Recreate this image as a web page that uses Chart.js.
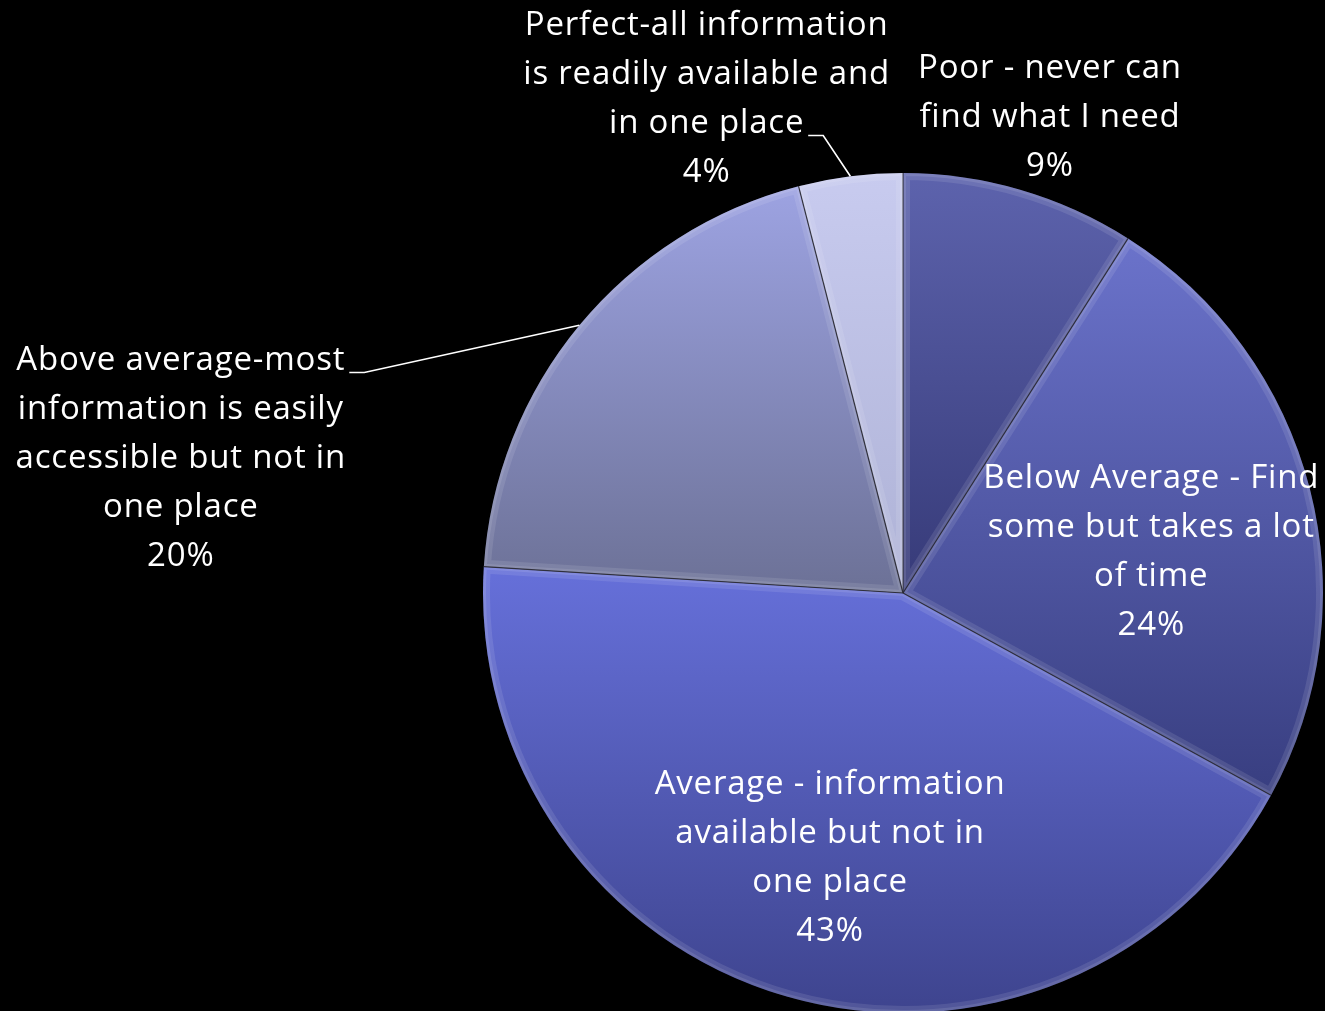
<!DOCTYPE html>
<html>
<head>
<meta charset="utf-8">
<script src="https://cdn.jsdelivr.net/npm/chart.js@4/dist/chart.umd.min.js"></script>
<style>
  html, body { margin: 0; padding: 0; background: #000; overflow: hidden; }
  canvas { display: block; }
</style>
</head>
<body>
<canvas id="infoPie" width="1325" height="1016"></canvas>
<script>
// survey answers, clockwise from twelve o'clock
const sliceLabels = [
  ['Poor - never can', 'find what I need'],
  ['Below Average - Find', 'some but takes a lot', 'of time'],
  ['Average - information', 'available but not in', 'one place'],
  ['Above average-most', 'information is easily', 'accessible but not in', 'one place'],
  ['Perfect-all information', 'is readily available and', 'in one place'],
];
const shares = [9, 24, 43, 20, 4];

// fill runs from the top colour down to the bottom colour of each slice
const topColors = ['#5d63ad', '#6b73cb', '#6670da', '#9da3e2', '#c8cbef'];
const bottomColors = ['#363a78', '#383e80', '#3e448e', '#6c7196', '#aeb2d6'];

// label block centre: distance in radii, and turn (degrees) away from the slice middle
const labelRadius = [1.19, 0.60, 0.65, 1.75, 1.27];
const labelTurn = [0.9, 4.5, -0.7, -28.9, -14.4];
// which text line the leader leaves from (outside labels only)
const leaderLine = [null, null, null, 0, 2];

const FONT = '33px "Open Sans", "Noto Sans", sans-serif';
const LINE_HEIGHT = 49;

const total = shares.reduce((a, b) => a + b, 0);

function sliceAngles(i) {
  const before = shares.slice(0, i).reduce((a, b) => a + b, 0);
  const start = -Math.PI / 2 + before / total * Math.PI * 2;
  const end = start + shares[i] / total * Math.PI * 2;
  return { start, end };
}

function pieGeometry(chart) {
  const area = chart.chartArea;
  return {
    cx: (area.left + area.right) / 2,
    cy: (area.top + area.bottom) / 2,
    r: Math.min(area.width, area.height) / 2,
  };
}

function sliceFill(context) {
  const i = context.dataIndex;
  const chart = context.chart;
  if (!chart.chartArea) return topColors[i];
  const { cx, cy, r } = pieGeometry(chart);
  const { start, end } = sliceAngles(i);
  const ys = [cy, cy + r * Math.sin(start), cy + r * Math.sin(end)];
  if (start <= Math.PI / 2 && end >= Math.PI / 2) ys.push(cy + r);
  if (start <= -Math.PI / 2 + 1e-6 || end >= Math.PI * 1.5 - 1e-6) ys.push(cy - r);
  const g = chart.ctx.createLinearGradient(0, Math.min(...ys), 0, Math.max(...ys));
  g.addColorStop(0, topColors[i]);
  g.addColorStop(1, bottomColors[i]);
  return g;
}

// soft bevel along every slice edge
const bevelPlugin = {
  id: 'bevel',
  afterDatasetsDraw(chart) {
    const ctx = chart.ctx;
    chart.getDatasetMeta(0).data.forEach((arc) => {
      const { x, y, outerRadius, startAngle, endAngle } = arc;
      ctx.save();
      ctx.beginPath();
      ctx.moveTo(x, y);
      ctx.arc(x, y, outerRadius, startAngle, endAngle);
      ctx.closePath();
      ctx.clip();
      ctx.lineJoin = 'round';
      ctx.strokeStyle = 'rgba(255,255,255,0.10)';
      ctx.lineWidth = 14;
      ctx.stroke();
      ctx.strokeStyle = 'rgba(255,255,255,0.10)';
      ctx.lineWidth = 6;
      ctx.stroke();
      ctx.restore();
      ctx.save();
      ctx.beginPath();
      ctx.moveTo(x, y);
      ctx.lineTo(x + outerRadius * Math.cos(startAngle), y + outerRadius * Math.sin(startAngle));
      ctx.strokeStyle = 'rgba(40,40,50,0.9)';
      ctx.lineWidth = 1.2;
      ctx.stroke();
      ctx.restore();
    });
  },
};

// multi-line value labels, with leader lines for those outside the pie
const sliceLabelPlugin = {
  id: 'sliceLabels',
  afterDraw(chart) {
    const ctx = chart.ctx;
    ctx.save();
    ctx.font = FONT;
    ctx.letterSpacing = '0.8px';
    ctx.fillStyle = '#ffffff';
    ctx.textAlign = 'center';
    ctx.textBaseline = 'middle';
    chart.getDatasetMeta(0).data.forEach((arc, i) => {
      const { x, y, outerRadius, startAngle, endAngle } = arc;
      const mid = (startAngle + endAngle) / 2;
      const a = mid + labelTurn[i] * Math.PI / 180;
      const lx = x + Math.cos(a) * outerRadius * labelRadius[i];
      const ly = y + Math.sin(a) * outerRadius * labelRadius[i] + 2;
      const lines = sliceLabels[i].concat([shares[i] + '%']);
      const top = ly - (lines.length - 1) * LINE_HEIGHT / 2;
      lines.forEach((line, k) => ctx.fillText(line, lx, top + k * LINE_HEIGHT));

      if (leaderLine[i] !== null) {
        const k = leaderLine[i];
        const w = ctx.measureText(lines[k]).width;
        const sx = lx + w / 2 + 4;
        const sy = top + k * LINE_HEIGHT + 12;
        ctx.beginPath();
        ctx.moveTo(sx, sy);
        ctx.lineTo(sx + 15, sy);
        ctx.lineTo(x + Math.cos(mid) * outerRadius, y + Math.sin(mid) * outerRadius);
        ctx.strokeStyle = '#ffffff';
        ctx.lineWidth = 1.6;
        ctx.stroke();
      }
    });
    ctx.restore();
  },
};

new Chart(document.getElementById('infoPie').getContext('2d'), {
  type: 'pie',
  data: {
    labels: sliceLabels.map((l) => l.join(' ')),
    datasets: [{
      data: shares,
      backgroundColor: sliceFill,
      borderColor: 'rgba(40,40,50,0.9)',
      borderWidth: 0,
    }],
  },
  options: {
    responsive: false,
    animation: false,
    layout: {
      padding: { left: 483, right: 2, top: 173, bottom: 3 },
    },
    plugins: {
      legend: { display: false },
      tooltip: { enabled: false },
    },
  },
  plugins: [bevelPlugin, sliceLabelPlugin],
});
</script>
</body>
</html>
